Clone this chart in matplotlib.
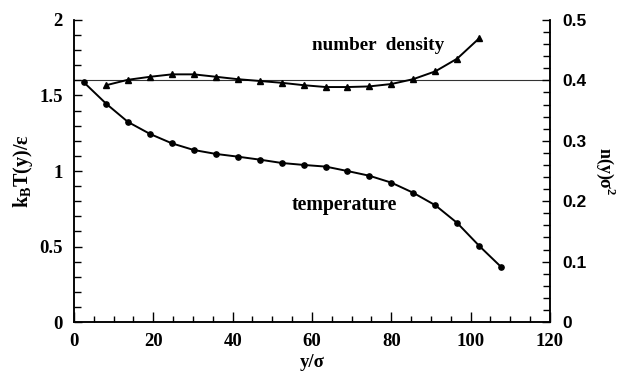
import matplotlib
matplotlib.use("Agg")
import matplotlib.pyplot as plt
from matplotlib.ticker import MultipleLocator, FixedLocator, FixedFormatter

# Data
y_temp = [2.5, 8.1, 13.6, 19.2, 24.7, 30.2, 35.8, 41.3, 46.9, 52.4, 58.0,
          63.5, 68.9, 74.4, 80.0, 85.5, 91.1, 96.6, 102.2, 107.7]
temperature = [1.587, 1.446, 1.325, 1.245, 1.183, 1.139, 1.113, 1.095, 1.075, 1.053,
               1.040, 1.029, 1.000, 0.969, 0.923, 0.856, 0.773, 0.656, 0.503, 0.364]

y_dens = [8.1, 13.6, 19.2, 24.7, 30.2, 35.8, 41.3, 46.9, 52.4, 58.0,
          63.5, 68.9, 74.4, 80.0, 85.5, 91.1, 96.6, 102.2]
density = [0.392, 0.401, 0.406, 0.410, 0.410, 0.406, 0.402, 0.399, 0.396, 0.392,
           0.389, 0.389, 0.390, 0.394, 0.402, 0.415, 0.436, 0.470]

ref_level = 1.6

x_ticks = [0, 20, 40, 60, 80, 100, 120]
x_labels = ["0", "20", "40", "60", "80", "100", "120"]
left_ticks = [0, 0.5, 1, 1.5, 2]
left_labels = ["0", "0.5", "1", "1.5", "2"]
right_ticks = [0, 0.1, 0.2, 0.3, 0.4, 0.5]
right_labels = ["0", "0.1", "0.2", "0.3", "0.4", "0.5"]

serif = "Liberation Serif"
sans = "Liberation Sans"

fig = plt.figure(figsize=(6.29, 3.73), dpi=100)
ax = fig.add_axes([0.1176, 0.1367, 0.7568, 0.8097])
ax2 = ax.twinx()

ax.set_xlim(0, 120)
ax.set_ylim(0, 2)
ax2.set_ylim(0, 0.5)

ax.axhline(ref_level, color="#333333", lw=0.8, zorder=1)
ax.plot(y_temp, temperature, color="black", lw=1.4, marker="o", ms=3.8, zorder=3)
ax2.plot(y_dens, density, color="black", lw=1.4, marker="^", ms=4.5, zorder=3)

for a in (ax, ax2):
    a.spines["top"].set_visible(False)
    for s in a.spines.values():
        s.set_linewidth(1.1)

ax.xaxis.set_major_locator(FixedLocator(x_ticks))
ax.xaxis.set_major_formatter(FixedFormatter(x_labels))
ax.xaxis.set_minor_locator(MultipleLocator(5))
ax.yaxis.set_major_locator(FixedLocator(left_ticks))
ax.yaxis.set_major_formatter(FixedFormatter(left_labels))
ax.yaxis.set_minor_locator(MultipleLocator(0.1))
ax2.yaxis.set_major_locator(FixedLocator(right_ticks))
ax2.yaxis.set_major_formatter(FixedFormatter(right_labels))
ax2.yaxis.set_minor_locator(MultipleLocator(0.02))

ax.tick_params(axis="x", which="major", direction="in", length=7, width=1, pad=8)
ax.tick_params(axis="x", which="minor", direction="in", length=4, width=1)
ax.tick_params(axis="y", which="major", direction="in", length=6, width=1, pad=8)
ax.tick_params(axis="y", which="minor", direction="in", length=5, width=1)
ax2.tick_params(axis="y", which="major", direction="in", length=6, width=1, pad=9)
ax2.tick_params(axis="y", which="minor", direction="in", length=5, width=1)

for lab in ax.get_xticklabels() + ax.get_yticklabels():
    lab.set_fontfamily(serif)
    lab.set_fontweight("bold")
    lab.set_fontsize(13.5)
for lab in ax2.get_yticklabels():
    lab.set_fontfamily(sans)
    lab.set_fontweight("bold")
    lab.set_fontsize(12.5)

ax.set_xlabel("y/σ", fontfamily=serif, fontweight="bold", fontsize=13.5, labelpad=3)
ax.set_ylabel(r"k$_\mathregular{B}$T(y)/ε", fontfamily=serif, fontweight="bold", fontsize=14.5, labelpad=3)
ax2.set_ylabel("n(y)σ$^\mathregular{2}$", fontfamily=serif, fontweight="bold", fontsize=13,
               rotation=-90, labelpad=22)

ax.text(60, 1.83, "number  density", fontfamily=serif, fontweight="bold", fontsize=13.8,
        va="center", ha="left")
ax.text(55, 0.775, "temperature", fontfamily=serif, fontweight="bold", fontsize=14.3,
        va="center", ha="left")

fig.savefig("out.png", dpi=100)
